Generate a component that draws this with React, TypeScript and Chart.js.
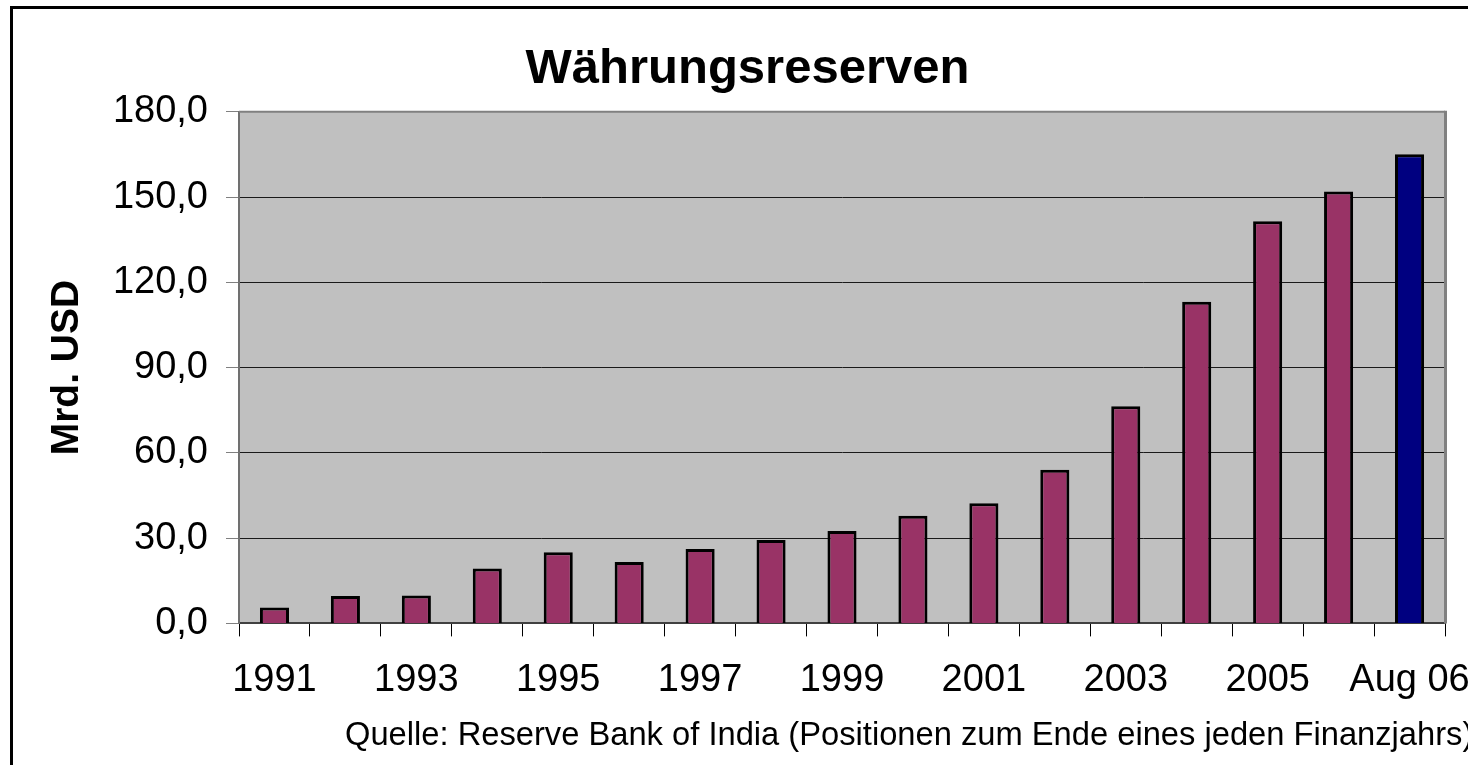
import React, { useEffect, useRef } from 'react';
import { Chart, registerables } from 'chart.js';

Chart.register(...registerables);

// ---- data ----
const CATEGORIES = [
  '1991', '1992', '1993', '1994', '1995', '1996', '1997', '1998', '1999',
  '2000', '2001', '2002', '2003', '2004', '2005', '2006', 'Aug 06',
];
const RESERVES = [
  5.6, 9.6, 9.8, 19.3, 25.0, 21.6, 26.2, 29.3, 32.5,
  37.9, 42.3, 54.1, 76.4, 113.2, 141.5, 152.0, 165.1,
];
const Y_MIN = 0;
const Y_MAX = 180;
const Y_STEP = 30;
const TITLE = 'Währungsreserven';
const Y_TITLE = 'Mrd. USD';
const SOURCE_NOTE = 'Quelle: Reserve Bank of India (Positionen zum Ende eines jeden Finanzjahrs)';

// ---- styles ----
const FONT = '"Liberation Sans", Arial, Helvetica, sans-serif';
const BAR_COLOR = '#993366';
const LAST_BAR_COLOR = '#000080';
const PLOT_BG = '#C0C0C0';
const CANVAS_W = 1495;
const CANVAS_H = 780;

const plotFrame = {
  id: 'plotFrame',
  beforeDraw(chart: any) {
    const { ctx, chartArea: a } = chart;
    ctx.save();
    ctx.fillStyle = PLOT_BG;
    ctx.fillRect(a.left, a.top, a.right - a.left, a.bottom - a.top);
    ctx.restore();
  },
  afterDraw(chart: any) {
    const { ctx, chartArea: a } = chart;
    ctx.save();
    ctx.strokeStyle = '#808080';
    ctx.lineWidth = 2;
    ctx.beginPath();
    ctx.moveTo(a.left, a.top);
    ctx.lineTo(a.right, a.top);
    ctx.stroke();
    ctx.lineWidth = 3;
    ctx.beginPath();
    ctx.moveTo(a.right + 0.5, a.top - 1);
    ctx.lineTo(a.right + 0.5, a.bottom);
    ctx.stroke();
    // source note
    ctx.fillStyle = '#000';
    ctx.font = `32.7px ${FONT}`;
    ctx.textAlign = 'left';
    ctx.textBaseline = 'middle';
    ctx.fillText(SOURCE_NOTE, 345, 736);
    ctx.restore();
  },
};

export default function App() {
  const canvasRef = useRef<HTMLCanvasElement | null>(null);

  useEffect(() => {
    if (!canvasRef.current) return;
    const chart = new Chart(canvasRef.current, {
      type: 'bar',
      data: {
        labels: CATEGORIES,
        datasets: [
          {
            label: TITLE,
            data: RESERVES,
            backgroundColor: CATEGORIES.map((c, i) =>
              i === CATEGORIES.length - 1 ? LAST_BAR_COLOR : BAR_COLOR
            ),
            borderColor: '#000000',
            borderWidth: 3,
            barPercentage: 0.41,
            categoryPercentage: 1,
          },
        ],
      },
      options: {
        responsive: false,
        animation: false,
        layout: { padding: { left: 0, right: 0, top: 0, bottom: 56 } },
        plugins: {
          legend: { display: false },
          tooltip: { enabled: false },
          title: {
            display: true,
            text: TITLE,
            color: '#000',
            font: { family: FONT, size: 49, weight: 'bold' },
            padding: { top: 40, bottom: 13 },
          },
        },
        scales: {
          x: {
            type: 'category',
            offset: true,
            grid: {
              display: true,
              drawOnChartArea: false,
              drawTicks: true,
              tickLength: 13,
              offset: true,
              color: '#000000',
              lineWidth: 1,
            },
            border: { display: true, color: '#404040', width: 2 },
            ticks: {
              autoSkip: false,
              maxRotation: 0,
              minRotation: 0,
              padding: 21,
              color: '#000',
              font: { family: FONT, size: 38 },
              callback: (_v: any, i: number) => (i % 2 === 0 ? CATEGORIES[i] : ''),
            },
            afterFit: (scale: any) => {
              scale.paddingLeft = 0;
              scale.paddingRight = 50;
            },
          },
          y: {
            min: Y_MIN,
            max: Y_MAX,
            grid: {
              display: true,
              drawTicks: true,
              tickLength: 13,
              color: (ctx: any) => (ctx.tick && ctx.tick.value === Y_MAX ? '#808080' : '#1a1a1a'),
              tickColor: '#808080',
              lineWidth: 1,
            },
            border: { display: true, color: '#707070', width: 2 },
            ticks: {
              stepSize: Y_STEP,
              padding: 18,
              color: '#000',
              font: { family: FONT, size: 38 },
              callback: (v: any) => Number(v).toFixed(1).replace('.', ','),
            },
            title: {
              display: true,
              text: Y_TITLE,
              color: '#000',
              font: { family: FONT, size: 39, weight: 'bold' },
              padding: { top: 44, bottom: 0 },
            },
            afterFit: (scale: any) => {
              scale.width = 239;
            },
          },
        },
      },
      plugins: [plotFrame],
    } as any);
    return () => chart.destroy();
  }, []);

  return (
    <div
      style={{
        position: 'fixed',
        left: 0,
        top: 0,
        width: 1468,
        height: 765,
        overflow: 'hidden',
        background: '#fff',
      }}
    >
      <div
        style={{
          position: 'absolute',
          left: 10,
          top: 6,
          width: 2000,
          height: 2000,
          border: '3px solid #000',
          boxSizing: 'border-box',
        }}
      />
      <canvas
        ref={canvasRef}
        width={CANVAS_W}
        height={CANVAS_H}
        style={{ position: 'absolute', left: 0, top: 0 }}
      />
    </div>
  );
}
